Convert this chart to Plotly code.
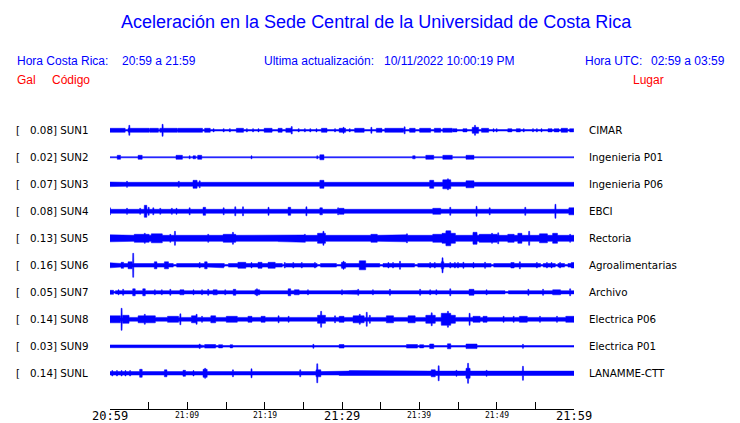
import numpy as np
import plotly.graph_objects as go

# ---------------- data ----------------
STATIONS = ["SUN1", "SUN2", "SUN3", "SUN4", "SUN5", "SUN6", "SUN7", "SUN8", "SUN9", "SUNL"]
PEAKS = ["0.08", "0.02", "0.07", "0.08", "0.13", "0.16", "0.05", "0.14", "0.03", "0.14"]
PLACES = ["CIMAR", "Ingenieria P01", "Ingenieria P06", "EBCI", "Rectoria",
          "Agroalimentarias", "Archivo", "Electrica P06", "Electrica P01", "LANAMME-CTT"]
# big / small time labels (minutes after 20:59)
MAJOR_TICKS = [0, 30, 60]
MAJOR_LABELS = ["20:59", "21:29", "21:59"]
MINOR_TICKS = [10, 20, 40, 50]
MINOR_LABELS = ["21:09", "21:19", "21:39", "21:49"]
ALL_TICKS = [0, 5, 10, 15, 20, 25, 30, 35, 40, 45, 50, 55, 60]

# background (noise) envelope half-amplitude of each trace (relative units)
BASE = [0.7, 0.55, 2.0, 2.0, 3.0, 1.8, 1.6, 1.9, 0.8, 1.7]
# quiet stretches (trace thinner than its noise level): (start_min, end_min)
QUIET = {
    "SUN6": [(8.2, 8.6), (14.8, 15.3), (22.3, 22.7), (26.8, 27.2), (29.3, 29.9), (34.9, 35.3),
             (39.4, 39.8), (49.3, 49.6), (55.7, 56.0), (57.6, 57.9), (58.8, 59.2)],
    "SUN7": [(0.45, 0.7), (51.1, 51.5)],
}
# bursts: (start_min, end_min, half-amplitude relative units)
BURSTS = {
    "SUN1": [(0, 1.9, 2), (2.4, 5.0, 2), (5.2, 6.2, 2), (6.5, 8.6, 2), (8.8, 11.9, 2), (12.3, 12.9, 2),
             (16.4, 17.2, 2), (20.0, 20.9, 2), (21.8, 22.2, 2), (22.8, 23.5, 2), (27.4, 28.0, 2),
             (29.7, 30.4, 2), (31.7, 32.8, 2), (34.5, 35.1, 2), (35.6, 37.9, 2), (38.8, 39.4, 2),
             (40.1, 41.4, 2), (42.0, 42.7, 2), (43.1, 44.2, 2), (48.1, 48.9, 2), (58.4, 59.1, 2),
             (13.4, 13.4, 1.6), (14.7, 14.7, 1.6), (15.5, 15.5, 1.6), (17.7, 17.7, 1.6), (18.5, 18.5, 1.6),
             (19.2, 19.2, 1.6), (24.4, 24.4, 1.6), (25.2, 25.2, 1.6), (25.9, 25.9, 1.6), (26.7, 26.7, 1.6),
             (29.1, 29.1, 1.6), (31.0, 31.0, 1.6), (44.4, 44.8, 1.6), (45.7, 46.1, 1.6), (49.6, 49.6, 1.6),
             (50.0, 50.0, 1.6), (51.5, 51.9, 1.6), (52.6, 53.0, 1.6), (53.5, 53.5, 1.6), (54.7, 54.7, 1.6),
             (55.2, 55.2, 1.6), (55.8, 55.8, 1.6), (56.7, 57.1, 1.6), (57.5, 58.0, 1.6), (59.5, 59.9, 1.6),
             (2.5, 2.5, 5), (6.8, 6.8, 6), (23.5, 23.5, 3.7), (30.2, 30.2, 3), (33.8, 33.8, 3),
             (38.1, 38.1, 3.5), (46.9, 47.6, 3), (47.2, 47.2, 5)],
    "SUN2": [(0.65, 0.65, 1.3), (1.0, 1.3, 2.0), (1.9, 1.9, 1.3), (2.4, 2.4, 1.3), (3.7, 4.1, 2.0),
             (4.5, 4.5, 1.3), (5.2, 5.2, 1.3), (5.7, 5.7, 1.3), (8.6, 9.3, 2.0), (10.3, 10.3, 1.5),
             (10.8, 11.0, 1.5), (11.4, 11.8, 2.0), (18.3, 18.3, 1.5), (26.8, 26.8, 1.5), (27.2, 27.6, 2.5),
             (32.1, 32.1, 1.3), (39.2, 39.4, 1.5), (40.9, 41.8, 2.0), (43.1, 44.2, 2.0), (46.1, 47.0, 2.0)],
    "SUN3": [(0, 1.1, 2.3), (2.2, 2.2, 3), (3.8, 3.8, 2.7), (5.1, 5.1, 2.7), (8.9, 8.9, 3),
             (10.8, 11.2, 4), (11.6, 11.6, 3.5), (19.4, 19.4, 2.7), (27.2, 27.6, 4), (33.2, 33.2, 2.7),
             (40.5, 40.5, 2.5), (41.4, 41.8, 4), (43.1, 44.0, 4.5), (43.7, 43.7, 5.5), (46.1, 47.0, 3.5)],
    "SUN4": [(0, 0, 3.5), (2.2, 2.2, 3), (3.9, 3.9, 3), (4.5, 4.7, 6), (5.0, 5.0, 4), (5.6, 5.6, 3.5),
             (6.5, 6.5, 3), (8.0, 8.0, 3), (8.6, 8.6, 3), (9.3, 9.3, 2.7), (9.7, 9.7, 2.7), (10.3, 10.3, 3.5),
             (11.2, 11.2, 2.7), (12.1, 12.3, 4), (14.0, 14.0, 2.7), (14.7, 14.7, 3.5), (16.2, 16.2, 4.5),
             (17.2, 17.2, 4.5), (20.5, 20.5, 4), (23.1, 23.3, 4), (23.9, 23.9, 2.7), (25.4, 25.4, 4.5),
             (27.2, 27.4, 3.5), (29.5, 29.5, 3.5), (29.7, 30.2, 3), (33.2, 33.2, 2.7), (34.9, 34.9, 2.7),
             (36.4, 36.4, 2.7), (38.1, 38.1, 2.7), (38.8, 38.8, 2.7), (39.9, 39.9, 2.7), (41.8, 42.7, 3),
             (44.0, 44.0, 4), (44.6, 44.6, 2.7), (47.4, 47.4, 5), (49.1, 49.1, 3.5), (50.6, 50.6, 2.7),
             (52.2, 52.2, 2.7), (53.7, 53.7, 4), (55.0, 55.0, 2.7), (56.5, 56.5, 2.7), (57.6, 57.6, 7),
             (59.4, 60, 3.5)],
    "SUN5": [(0, 1.5, 3.5), (3.2, 5.0, 4), (4.5, 4.5, 5), (5.4, 6.7, 4.5), (7.8, 7.8, 4), (8.4, 8.4, 7),
             (9.7, 11.4, 3.7), (12.7, 12.7, 4), (14.7, 16.2, 4), (15.9, 15.9, 6), (17.7, 18.5, 3.5),
             (19.6, 20.5, 3.3), (21.8, 25.2, 3.3), (25.2, 25.2, 4), (26.9, 27.8, 5), (27.6, 27.6, 7),
             (29.1, 29.1, 3.5), (29.7, 32.3, 3.5), (33.8, 34.5, 4), (35.8, 38.4, 3.5), (38.4, 38.4, 4.5),
             (41.8, 43.1, 4), (43.0, 44.6, 5), (43.5, 44.0, 7.5), (47.0, 47.4, 6), (47.8, 50.0, 4),
             (49.4, 49.4, 5), (50.2, 50.2, 5.5), (51.5, 52.2, 4), (52.8, 53.2, 5), (54.2, 54.2, 7),
             (55.6, 56.5, 4.5), (57.3, 57.8, 5), (59.5, 59.5, 4)],
    "SUN6": [(0, 0, 2.5), (0.65, 0.65, 2.5), (1.5, 1.7, 3), (2.4, 2.8, 3.5), (3.0, 3.0, 12), (5.8, 6.0, 3.5),
             (7.1, 7.5, 3.5), (11.6, 11.6, 2.7), (12.3, 12.5, 3.5), (13.6, 14.7, 2.5), (16.6, 17.5, 3),
             (18.3, 18.3, 2.7), (19.2, 19.6, 3), (20.5, 21.3, 3), (22.6, 22.6, 2.7), (23.7, 23.7, 2.7),
             (24.8, 24.8, 2.7), (26.5, 26.5, 2.7), (30.0, 30.4, 3), (30.2, 30.2, 4), (32.3, 33.0, 4.5),
             (36.0, 36.0, 2.7), (36.6, 36.6, 2.7), (37.5, 37.5, 4), (41.4, 41.4, 2.7), (42.0, 42.0, 2.7),
             (42.9, 43.1, 3.5), (43.0, 43.0, 7.5), (44.0, 44.0, 2.7), (44.6, 44.6, 2.7), (45.0, 45.0, 2.7),
             (45.7, 45.7, 3), (47.0, 47.0, 2.7), (48.5, 48.5, 3), (51.9, 52.2, 2.7), (53.0, 53.0, 3.5),
             (55.2, 55.2, 2.7), (56.5, 56.5, 2.7), (57.1, 57.1, 2.7), (58.2, 58.2, 2.7), (59.7, 60, 2.7)],
    "SUN7": [(0, 0.4, 2), (1.1, 1.1, 2.5), (1.7, 1.7, 3), (3.0, 3.2, 3.5), (4.3, 4.5, 3.5), (5.8, 5.8, 2.5),
             (6.7, 6.7, 2.5), (7.8, 7.8, 3), (9.1, 9.5, 2.5), (10.8, 10.8, 2.5), (11.9, 11.9, 2.5),
             (12.7, 12.7, 3), (13.4, 13.8, 2.5), (14.9, 14.9, 2.5), (16.0, 16.2, 3), (18.8, 19.3, 2.5),
             (19.0, 19.0, 3.5), (23.1, 23.3, 3.5), (23.9, 24.4, 2.5), (25.6, 25.6, 2.5), (27.8, 29.1, 2.2),
             (30.0, 30.0, 2.5), (30.5, 32.0, 2.0), (32.1, 32.1, 3), (34.0, 34.0, 2.5), (36.2, 36.2, 3),
             (37.9, 39.2, 2.2), (40.1, 40.1, 3), (41.4, 41.4, 2.5), (42.2, 42.2, 2.5), (44.0, 44.0, 3.5),
             (46.5, 47.0, 3), (48.7, 48.7, 2.5), (54.1, 54.1, 3), (56.0, 56.0, 3), (57.3, 58.2, 2.5),
             (59.5, 59.5, 3.5)],
    "SUN8": [(0, 1.3, 3.5), (1.5, 1.5, 11), (1.7, 2.4, 4), (3.7, 5.8, 3.5), (4.5, 4.5, 5), (7.5, 8.8, 3),
             (9.1, 9.1, 5.5), (10.6, 11.2, 3.5), (11.2, 11.2, 5), (11.9, 11.9, 3), (13.1, 13.6, 3.5),
             (15.1, 16.4, 3), (17.9, 18.3, 3), (19.6, 20.0, 3), (21.8, 21.8, 3.5), (23.1, 23.1, 3),
             (26.9, 27.8, 4), (27.3, 27.3, 8), (29.1, 29.1, 3.5), (29.7, 30.2, 3), (31.5, 32.8, 3.5),
             (32.3, 32.3, 5), (33.2, 33.2, 7), (33.6, 33.6, 4), (35.8, 36.6, 3.5), (38.6, 39.4, 3.5),
             (40.9, 42.0, 4), (41.6, 41.6, 6.5), (42.9, 44.0, 6), (43.7, 43.7, 8), (44.0, 44.6, 4),
             (46.5, 46.5, 6), (47.0, 47.8, 3), (48.3, 48.7, 3), (50.9, 50.9, 3), (52.2, 52.2, 3),
             (53.0, 53.9, 3), (55.6, 55.6, 3), (57.8, 57.8, 3), (59.0, 60, 3)],
    "SUN9": [(0, 11.8, 1.4), (0.6, 0.9, 1.8), (3.2, 3.6, 1.8), (5.4, 6.0, 1.8), (7.5, 8.2, 1.8),
             (10.0, 10.4, 1.8), (11.6, 11.6, 2.3), (12.3, 13.6, 1.8), (14.1, 14.5, 1.6), (15.6, 15.8, 1.6),
             (16.6, 17.5, 1.4), (18.3, 20.0, 1.3), (20.9, 21.5, 1.3), (25.4, 25.8, 1.5), (26.3, 26.3, 2),
             (26.5, 29.5, 1.5), (29.7, 30.2, 1.8), (31.0, 31.2, 1.5), (32.3, 32.5, 1.5), (33.4, 33.8, 1.5),
             (35.1, 35.3, 1.5), (36.4, 36.6, 1.5), (38.4, 39.7, 1.8), (40.1, 40.5, 1.6), (41.4, 41.8, 2.3),
             (43.7, 44.0, 2.5), (46.1, 47.4, 2.3), (48.0, 48.3, 1.5), (49.6, 50.0, 1.5), (51.3, 51.3, 1.5),
             (53.4, 53.4, 2), (54.7, 54.7, 1.5), (56.7, 56.7, 1.5), (59.0, 59.5, 1.5)],
    "SUNL": [(0.3, 0.3, 2.7), (0.9, 0.9, 2.7), (1.5, 1.5, 2.7), (2.0, 2.0, 2.7), (2.6, 2.6, 2.7),
             (3.9, 4.1, 4), (7.1, 7.3, 3.5), (9.5, 9.7, 3), (10.8, 10.8, 2.7), (12.1, 12.5, 4),
             (12.3, 12.3, 5), (15.9, 15.9, 3.5), (18.3, 18.3, 4.5), (24.6, 24.6, 3.5), (26.7, 27.2, 3.5),
             (26.8, 26.8, 9.5), (29.7, 60, 2.2), (31.0, 31.0, 2.7), (32.5, 32.5, 2.7), (35.6, 35.6, 2.7),
             (39.4, 39.4, 2.7), (40.3, 40.3, 2.7), (41.6, 42.0, 3.5), (42.5, 42.5, 7.5), (43.1, 44.0, 2.7),
             (44.8, 44.8, 3), (46.1, 46.5, 5), (46.3, 46.3, 10), (48.7, 48.7, 3), (49.6, 49.6, 2.7),
             (53.4, 53.4, 7), (59.0, 59.0, 2.7)],
}

# ---------------- layout geometry (page pixels; the page body has an 8px margin) ----------------
OFF = 8
W, H = 740 - OFF, 423 - OFF
PL, PR, PT, PB = 110, 574, 110, 409       # plot area in page pixels
ROW0, ROWSTEP = 130.3, 27.0
AMP_PER_ROW = 27.0          # relative amplitude units per row spacing
BLUE = "#0000ff"
RED = "#ff0000"
HDR_FONT = "Liberation Sans, Arial, sans-serif"
LBL_FONT = "DejaVu Sans, sans-serif"
MONO_FONT = "DejaVu Sans Mono, monospace"

y_top = (PT - ROW0) / ROWSTEP
y_bot = (PB - ROW0) / ROWSTEP


def pxx(x):
    return (x - PL) / (PR - PL)


def pxy(y):
    return (PB - y) / (PB - PT)


t = np.linspace(0, 60, 3001)
PAD = 0.07
fig = go.Figure()
for i, st in enumerate(STATIONS):
    env = np.full_like(t, BASE[i])
    for (a, b) in QUIET.get(st, []):
        env[(t >= a) & (t <= b)] = 0.8
    for (a, b, amp) in BURSTS[st]:
        m = (t >= a - PAD) & (t <= b + PAD)
        env[m] = np.maximum(env[m], amp)
    d = env / AMP_PER_ROW
    xs = np.concatenate([t, t[::-1]])
    ys = np.concatenate([i - d, (i + d)[::-1]])
    fig.add_trace(go.Scatter(x=xs, y=ys, mode="lines", fill="toself", fillcolor=BLUE,
                             line=dict(color=BLUE, width=0.5), hoverinfo="skip", showlegend=False))

ann = []


def add(text, x, y, size, color, font, xanchor="left", yref="paper", ypos=None):
    ann.append(dict(text=text, x=pxx(x), xref="paper",
                    y=(pxy(y) if ypos is None else ypos), yref=yref,
                    xanchor=xanchor, yanchor="middle", showarrow=False,
                    font=dict(size=size, color=color, family=font)))


add("Aceleración en la Sede Central de la Universidad de Costa Rica", 376.5, 22, 18, BLUE, HDR_FONT, "center")
add("Hora Costa Rica:", 15, 60.5, 12, BLUE, HDR_FONT)
add("20:59 a 21:59", 120, 60.5, 12, BLUE, HDR_FONT)
add("Ultima actualización:", 262, 60.5, 12, BLUE, HDR_FONT)
add("10/11/2022 10:00:19 PM", 382, 60.5, 12, BLUE, HDR_FONT)
add("Hora UTC:", 583, 60.5, 12, BLUE, HDR_FONT)
add("02:59 a 03:59", 727, 60.5, 12, BLUE, HDR_FONT, "right")
add("Gal", 15, 80.5, 12, RED, HDR_FONT)
add("Código", 50, 80.5, 12, RED, HDR_FONT)
add("Lugar", 631, 80.5, 12, RED, HDR_FONT)

for i, st in enumerate(STATIONS):
    add("[", 14, 0, 10.3, "black", LBL_FONT, yref="y", ypos=i)
    add(PEAKS[i] + "] " + st, 27.5, 0, 10.3, "black", LBL_FONT, yref="y", ypos=i)
    add(PLACES[i], 587, 0, 10.3, "black", LBL_FONT, yref="y", ypos=i)

for tv, lab in zip(MAJOR_TICKS, MAJOR_LABELS):
    ann.append(dict(text=lab, x=tv, xref="x", y=pxy(415.5), yref="paper", xanchor="center",
                    yanchor="middle", showarrow=False,
                    font=dict(size=12, color="black", family=MONO_FONT)))
for tv, lab in zip(MINOR_TICKS, MINOR_LABELS):
    ann.append(dict(text=lab, x=tv, xref="x", y=pxy(415.5), yref="paper", xanchor="center",
                    yanchor="middle", showarrow=False,
                    font=dict(size=8, color="black", family=MONO_FONT)))

fig.update_layout(
    width=W, height=H,
    margin=dict(l=PL - OFF, r=740 - PR, t=PT - OFF, b=423 - PB, pad=0),
    paper_bgcolor="white", plot_bgcolor="white",
    annotations=ann,
    xaxis=dict(range=[0, 60], showgrid=False, zeroline=False, showline=True, linecolor="black",
               linewidth=1, ticks="inside", ticklen=7, tickcolor="black", tickwidth=1,
               tickvals=ALL_TICKS, showticklabels=False, fixedrange=True),
    yaxis=dict(range=[y_bot, y_top], showgrid=False, zeroline=False, showline=False,
               showticklabels=False, ticks="", fixedrange=True),
)
fig.write_html("out.html")
